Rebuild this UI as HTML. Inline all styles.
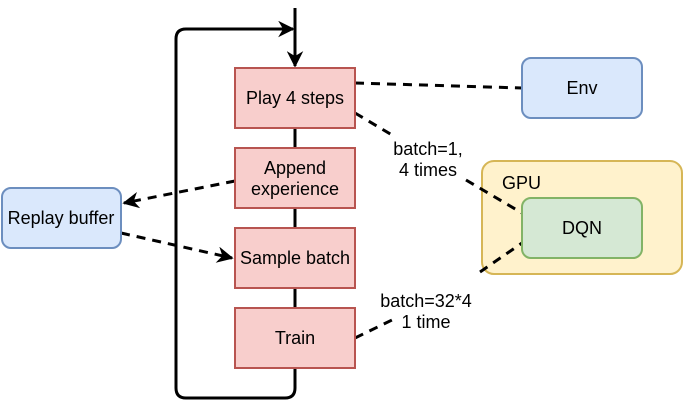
<!DOCTYPE html>
<html><head><style>body{margin:0;background:#fff}svg{display:block}</style></head><body>
<svg width="683" height="408" viewBox="0 0 683 408" font-family="Liberation Sans, Arial, sans-serif" font-size="18">
<defs><marker id="a" viewBox="0 0 10 10" refX="9" refY="5" markerWidth="5.5" markerHeight="5.5" orient="auto" markerUnits="strokeWidth"><path d="M0,0 L10,5 L0,10 L3,5z" fill="#000"/></marker></defs>
<rect x="482" y="161" width="200" height="113" rx="12" fill="#fff2cc" stroke="#d6b656" stroke-width="2"/>
<text x="502" y="189">GPU</text>
<path d="M295,8 V66" stroke="#000" stroke-width="3" fill="none" marker-end="url(#a)"/>
<path d="M295,128 V388 Q295,398 285,398 H186 Q176,398 176,388 V39 Q176,29 186,29 H293" stroke="#000" stroke-width="3" fill="none" marker-end="url(#a)"/>
<g stroke="#000" stroke-width="3" stroke-dasharray="9,7" fill="none">
<path d="M355,83 L522,88"/>
<path d="M355,113 L392,135"/>
<path d="M466,180 L522,213"/>
<path d="M355,338 L392,320"/>
<path d="M480,272 L522,243"/>
<path d="M235,181 L124,203" marker-end="url(#a)"/>
<path d="M121,233 L232,258" marker-end="url(#a)"/>
</g>
<g fill="#f8cecc" stroke="#b85450" stroke-width="2">
<rect x="235" y="68" width="120" height="60"/>
<rect x="235" y="148" width="120" height="60"/>
<rect x="235" y="228" width="120" height="60"/>
<rect x="235" y="308" width="120" height="60"/>
</g>
<rect x="2" y="188" width="119" height="60" rx="9" fill="#dae8fc" stroke="#6c8ebf" stroke-width="2"/>
<rect x="522" y="58" width="120" height="60" rx="9" fill="#dae8fc" stroke="#6c8ebf" stroke-width="2"/>
<rect x="522" y="198" width="120" height="60" rx="9" fill="#d5e8d4" stroke="#82b366" stroke-width="2"/>
<g text-anchor="middle" fill="#000">
<text x="295" y="104">Play 4 steps</text>
<text x="295" y="174">Append</text>
<text x="295" y="195">experience</text>
<text x="295" y="264">Sample batch</text>
<text x="295" y="344">Train</text>
<text x="61" y="224">Replay buffer</text>
<text x="582" y="94">Env</text>
<text x="582" y="234">DQN</text>
<text x="428" y="155">batch=1,</text>
<text x="428" y="176">4 times</text>
<text x="426" y="307">batch=32*4</text>
<text x="426" y="328">1 time</text>
</g>
</svg>
</body></html>
